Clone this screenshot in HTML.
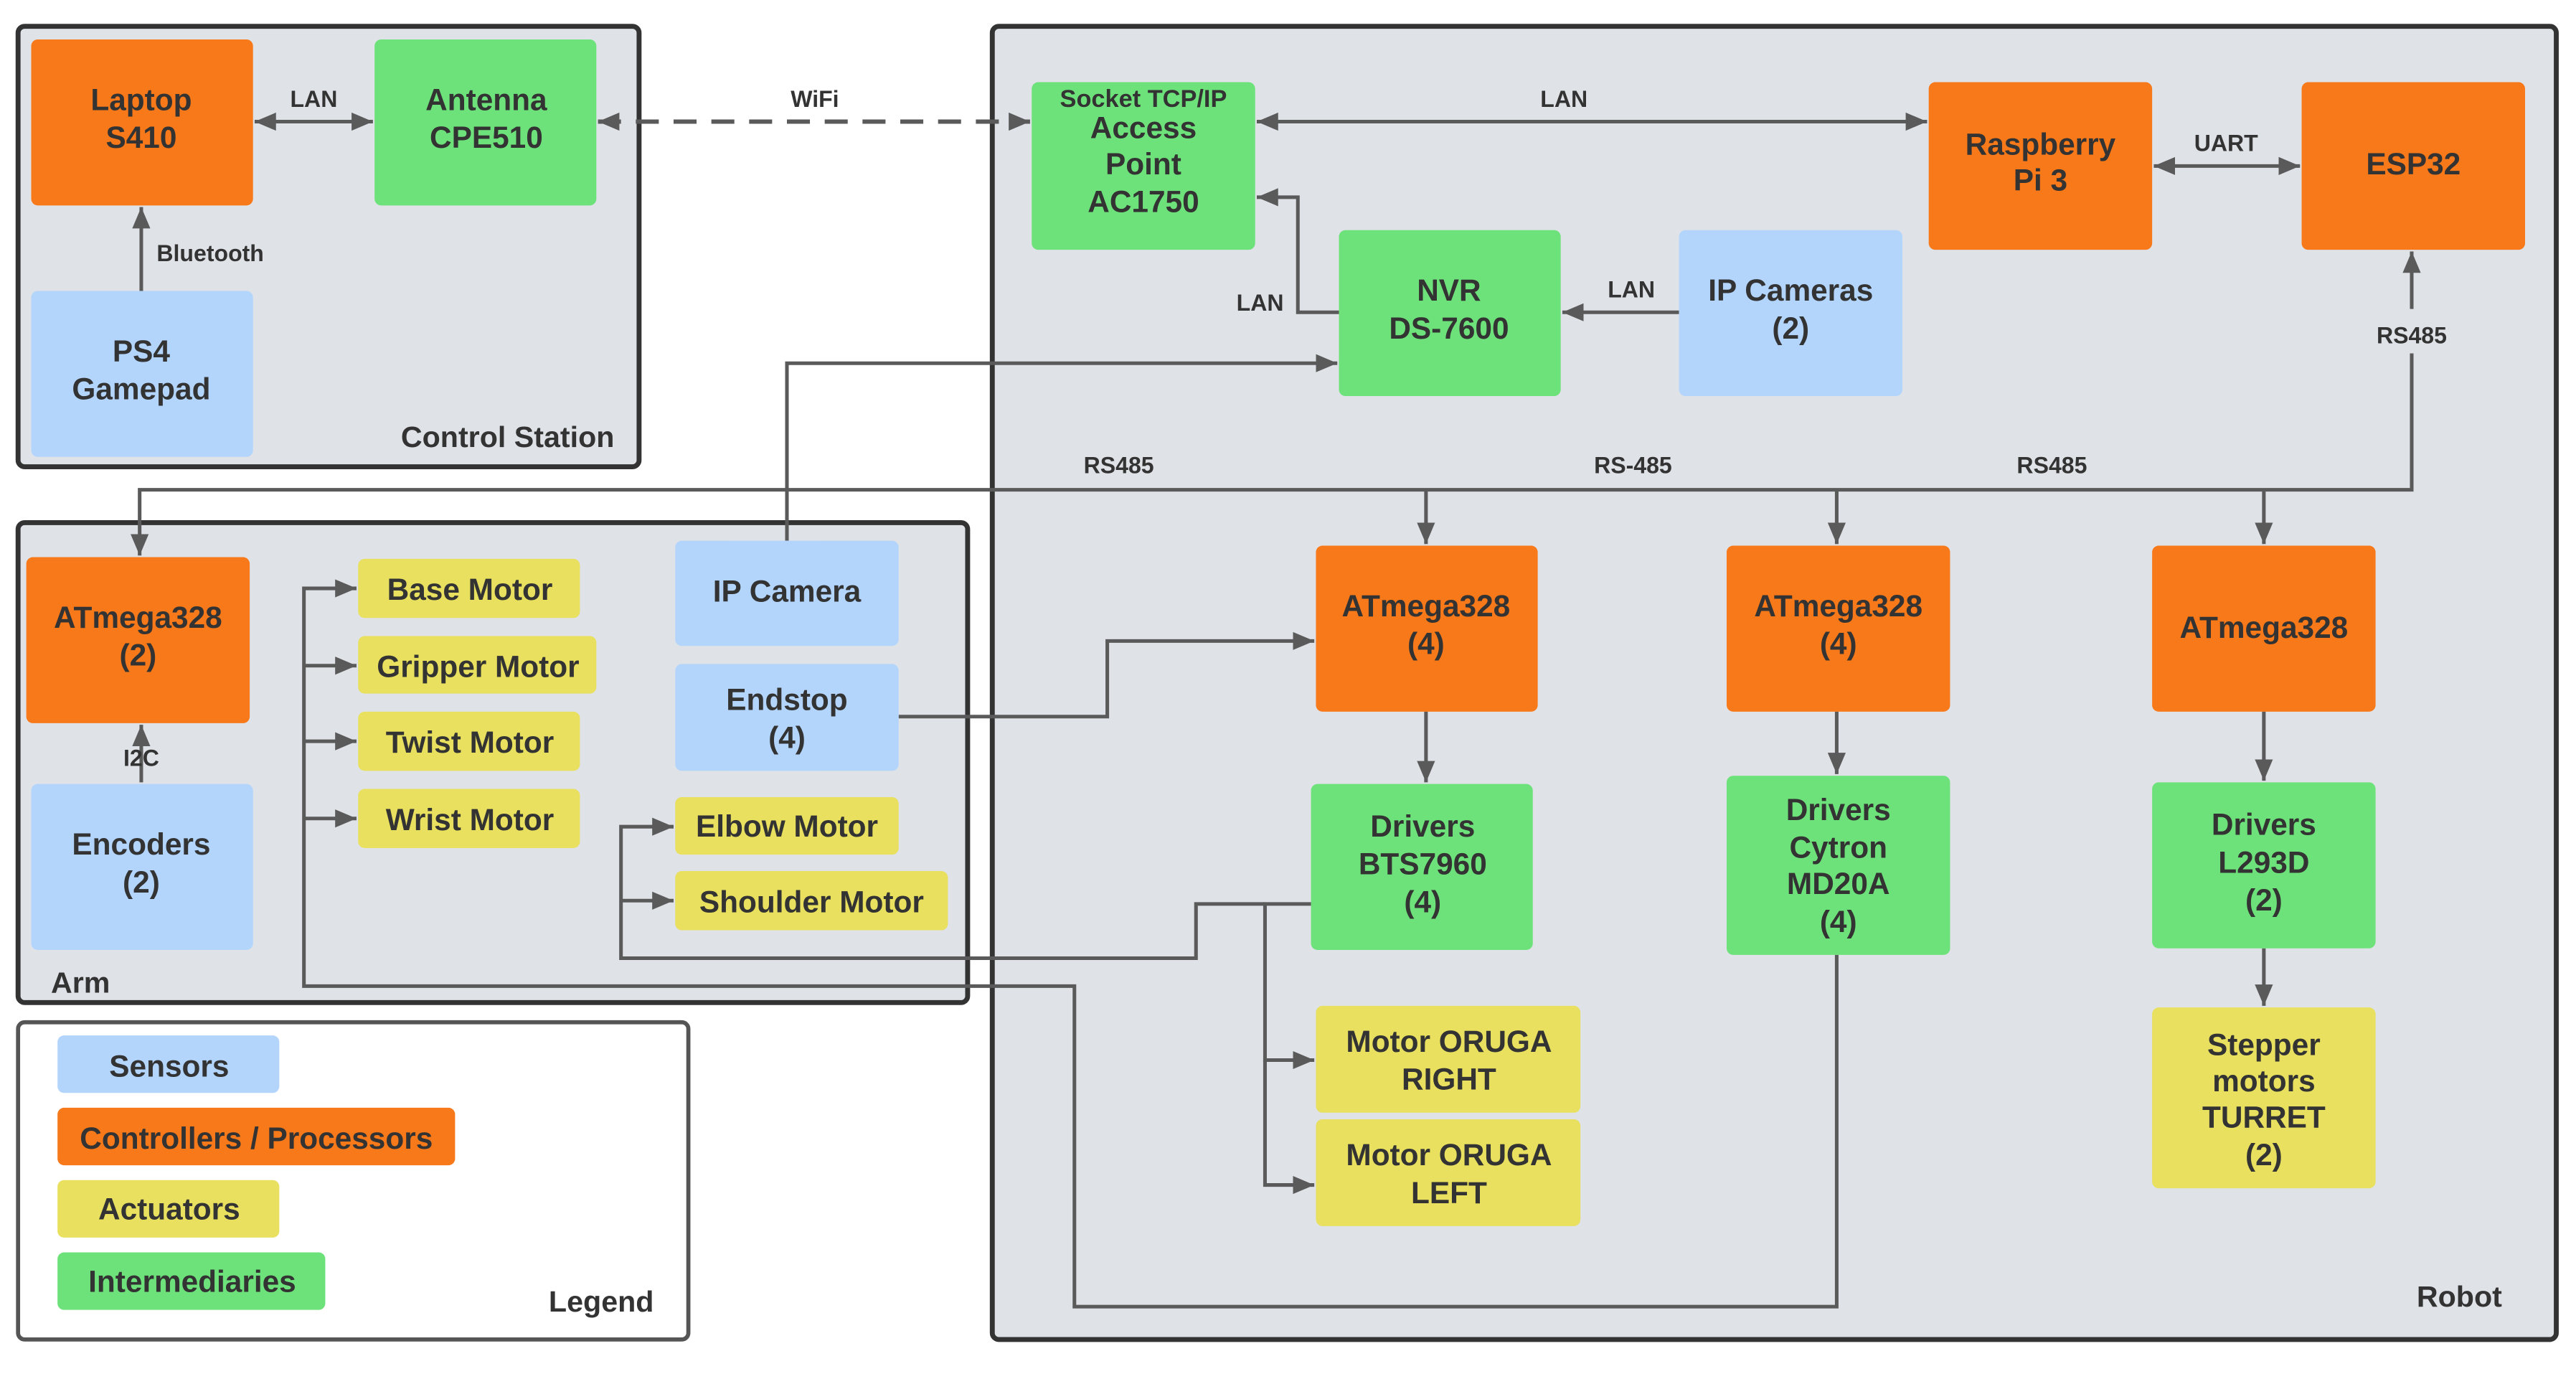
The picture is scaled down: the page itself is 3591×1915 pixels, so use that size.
<!DOCTYPE html>
<html><head><meta charset="utf-8"><style>
html,body{margin:0;padding:0;background:#fff}
svg{display:block}
text{font-family:"Liberation Sans",sans-serif;font-weight:bold;fill:#333;text-anchor:middle}
.b{font-size:18.5px}
.l{font-size:14px}
.ln{stroke:#5a5a5a;stroke-width:2.2;fill:none}
</style></head><body>
<svg width="3591" height="1915" viewBox="0 0 1568 836" preserveAspectRatio="none" xmlns="http://www.w3.org/2000/svg">
<defs>
<marker id="a" markerUnits="userSpaceOnUse" markerWidth="14" markerHeight="14" refX="13" refY="7" orient="auto-start-reverse"><path d="M0,1.5 L13,7 L0,12.5 z" fill="#5a5a5a"/></marker>
</defs>
<!-- containers -->
<rect x="11" y="16" width="378" height="268" rx="4" fill="#dfe2e7" stroke="#333" stroke-width="3"/>
<rect x="604" y="16" width="952" height="799" rx="4" fill="#dfe2e7" stroke="#333" stroke-width="3"/>
<rect x="11" y="318" width="578" height="292" rx="4" fill="#dfe2e7" stroke="#333" stroke-width="3"/>
<rect x="11" y="622" width="408" height="193" rx="4" fill="#fff" stroke="#555" stroke-width="2.5"/>
<text class="b" x="309" y="272" style="font-size:18px">Control Station</text>
<text class="b" x="1497" y="795" style="font-size:18px">Robot</text>
<text class="b" x="49" y="604" style="font-size:18px">Arm</text>
<text class="b" x="366" y="798" style="font-size:18px">Legend</text>

<!-- connectors -->
<path class="ln" d="M86,177 L86,126" marker-end="url(#a)"/>
<path class="ln" d="M155,74 L227,74" marker-start="url(#a)" marker-end="url(#a)"/>
<path class="ln" d="M364,74 L627,74" stroke-dasharray="14,9" marker-start="url(#a)" marker-end="url(#a)" style="stroke-width:2.6"/>
<path class="ln" d="M765,74 L1173,74" marker-start="url(#a)" marker-end="url(#a)"/>
<path class="ln" d="M1311,101 L1400,101" marker-start="url(#a)" marker-end="url(#a)"/>
<path class="ln" d="M815,190 L790,190 L790,120 L765,120" marker-end="url(#a)"/>
<path class="ln" d="M1022,190 L951,190" marker-end="url(#a)"/>
<path class="ln" d="M479,329 L479,221 L814,221" marker-end="url(#a)"/>
<path class="ln" d="M1468,188 L1468,153" marker-end="url(#a)"/>
<path class="ln" d="M1468,215 L1468,298 L85,298 L85,338" marker-end="url(#a)"/>
<path class="ln" d="M868,298 L868,331" marker-end="url(#a)"/>
<path class="ln" d="M1118,298 L1118,331" marker-end="url(#a)"/>
<path class="ln" d="M1378,298 L1378,331" marker-end="url(#a)"/>
<path class="ln" d="M86,476 L86,441" marker-end="url(#a)"/>
<path class="ln" d="M868,433 L868,476" marker-end="url(#a)"/>
<path class="ln" d="M1118,433 L1118,471" marker-end="url(#a)"/>
<path class="ln" d="M1378,433 L1378,475" marker-end="url(#a)"/>
<path class="ln" d="M1378,577 L1378,612" marker-end="url(#a)"/>
<path class="ln" d="M547,436 L674,436 L674,390 L800,390" marker-end="url(#a)"/>
<path class="ln" d="M798,550 L770,550 L770,645 L800,645" marker-end="url(#a)"/>
<path class="ln" d="M770,645 L770,721 L800,721" marker-end="url(#a)"/>
<path class="ln" d="M770,550 L728,550 L728,583 L378,583 L378,503 L410,503" marker-end="url(#a)"/>
<path class="ln" d="M378,548 L410,548" marker-end="url(#a)"/>
<path class="ln" d="M1118,581 L1118,795 L654,795 L654,600 L185,600 L185,358 L217,358" marker-end="url(#a)"/>
<path class="ln" d="M185,405 L217,405" marker-end="url(#a)"/>
<path class="ln" d="M185,451 L217,451" marker-end="url(#a)"/>
<path class="ln" d="M185,498 L217,498" marker-end="url(#a)"/>

<!-- connector labels -->
<text class="l" x="191" y="65">LAN</text>
<text class="l" x="128" y="159">Bluetooth</text>
<text class="l" x="496" y="65">WiFi</text>
<text class="l" x="952" y="65">LAN</text>
<text class="l" x="1355" y="92">UART</text>
<text class="l" x="767" y="189">LAN</text>
<text class="l" x="993" y="181">LAN</text>
<text class="l" x="1468" y="209">RS485</text>
<text class="l" x="681" y="288">RS485</text>
<text class="l" x="994" y="288">RS-485</text>
<text class="l" x="1249" y="288">RS485</text>
<text class="l" x="86" y="466">I2C</text>

<!-- nodes -->
<g>
<rect x="19" y="24" width="135" height="101" rx="4" fill="#f7791a"/>
<text class="b" x="86" y="67">Laptop</text><text class="b" x="86" y="90">S410</text>
<rect x="228" y="24" width="135" height="101" rx="4" fill="#6ee27a"/>
<text class="b" x="296" y="67">Antenna</text><text class="b" x="296" y="90">CPE510</text>
<rect x="19" y="177" width="135" height="101" rx="4" fill="#b3d5fc"/>
<text class="b" x="86" y="220">PS4</text><text class="b" x="86" y="243">Gamepad</text>

<rect x="628" y="50" width="136" height="102" rx="4" fill="#6ee27a"/>
<text class="l" x="696" y="65" style="font-size:15px">Socket TCP/IP</text>
<text class="b" x="696" y="84">Access</text><text class="b" x="696" y="106">Point</text><text class="b" x="696" y="129">AC1750</text>
<rect x="1174" y="50" width="136" height="102" rx="4" fill="#f7791a"/>
<text class="b" x="1242" y="94">Raspberry</text><text class="b" x="1242" y="116">Pi 3</text>
<rect x="1401" y="50" width="136" height="102" rx="4" fill="#f7791a"/>
<text class="b" x="1469" y="106">ESP32</text>
<rect x="815" y="140" width="135" height="101" rx="4" fill="#6ee27a"/>
<text class="b" x="882" y="183">NVR</text><text class="b" x="882" y="206">DS-7600</text>
<rect x="1022" y="140" width="136" height="101" rx="4" fill="#b3d5fc"/>
<text class="b" x="1090" y="183">IP Cameras</text><text class="b" x="1090" y="206">(2)</text>

<rect x="801" y="332" width="135" height="101" rx="4" fill="#f7791a"/>
<text class="b" x="868" y="375">ATmega328</text><text class="b" x="868" y="398">(4)</text>
<rect x="1051" y="332" width="136" height="101" rx="4" fill="#f7791a"/>
<text class="b" x="1119" y="375">ATmega328</text><text class="b" x="1119" y="398">(4)</text>
<rect x="1310" y="332" width="136" height="101" rx="4" fill="#f7791a"/>
<text class="b" x="1378" y="388">ATmega328</text>

<rect x="798" y="477" width="135" height="101" rx="4" fill="#6ee27a"/>
<text class="b" x="866" y="509">Drivers</text><text class="b" x="866" y="532">BTS7960</text><text class="b" x="866" y="555">(4)</text>
<rect x="1051" y="472" width="136" height="109" rx="4" fill="#6ee27a"/>
<text class="b" x="1119" y="499">Drivers</text><text class="b" x="1119" y="522">Cytron</text><text class="b" x="1119" y="544">MD20A</text><text class="b" x="1119" y="567">(4)</text>
<rect x="1310" y="476" width="136" height="101" rx="4" fill="#6ee27a"/>
<text class="b" x="1378" y="508">Drivers</text><text class="b" x="1378" y="531">L293D</text><text class="b" x="1378" y="554">(2)</text>

<rect x="801" y="612" width="161" height="65" rx="4" fill="#e8e05e"/>
<text class="b" x="882" y="640">Motor ORUGA</text><text class="b" x="882" y="663">RIGHT</text>
<rect x="801" y="681" width="161" height="65" rx="4" fill="#e8e05e"/>
<text class="b" x="882" y="709">Motor ORUGA</text><text class="b" x="882" y="732">LEFT</text>
<rect x="1310" y="613" width="136" height="110" rx="4" fill="#e8e05e"/>
<text class="b" x="1378" y="642">Stepper</text><text class="b" x="1378" y="664">motors</text><text class="b" x="1378" y="686">TURRET</text><text class="b" x="1378" y="709">(2)</text>

<rect x="16" y="339" width="136" height="101" rx="4" fill="#f7791a"/>
<text class="b" x="84" y="382">ATmega328</text><text class="b" x="84" y="405">(2)</text>
<rect x="19" y="477" width="135" height="101" rx="4" fill="#b3d5fc"/>
<text class="b" x="86" y="520">Encoders</text><text class="b" x="86" y="543">(2)</text>
<rect x="218" y="340" width="135" height="36" rx="4" fill="#e8e05e"/>
<text class="b" x="286" y="365">Base Motor</text>
<rect x="218" y="387" width="145" height="35" rx="4" fill="#e8e05e"/>
<text class="b" x="291" y="412">Gripper Motor</text>
<rect x="218" y="433" width="135" height="36" rx="4" fill="#e8e05e"/>
<text class="b" x="286" y="458">Twist Motor</text>
<rect x="218" y="480" width="135" height="36" rx="4" fill="#e8e05e"/>
<text class="b" x="286" y="505">Wrist Motor</text>
<rect x="411" y="329" width="136" height="64" rx="4" fill="#b3d5fc"/>
<text class="b" x="479" y="366">IP Camera</text>
<rect x="411" y="404" width="136" height="65" rx="4" fill="#b3d5fc"/>
<text class="b" x="479" y="432">Endstop</text><text class="b" x="479" y="455">(4)</text>
<rect x="411" y="485" width="136" height="35" rx="4" fill="#e8e05e"/>
<text class="b" x="479" y="509">Elbow Motor</text>
<rect x="411" y="530" width="166" height="36" rx="4" fill="#e8e05e"/>
<text class="b" x="494" y="555">Shoulder Motor</text>

<rect x="35" y="630" width="135" height="35" rx="4" fill="#b3d5fc"/>
<text class="b" x="103" y="655">Sensors</text>
<rect x="35" y="674" width="242" height="35" rx="4" fill="#f7791a"/>
<text class="b" x="156" y="699">Controllers / Processors</text>
<rect x="35" y="718" width="135" height="35" rx="4" fill="#e8e05e"/>
<text class="b" x="103" y="742">Actuators</text>
<rect x="35" y="762" width="163" height="35" rx="4" fill="#6ee27a"/>
<text class="b" x="117" y="786">Intermediaries</text>
</g>
</svg>
</body></html>
